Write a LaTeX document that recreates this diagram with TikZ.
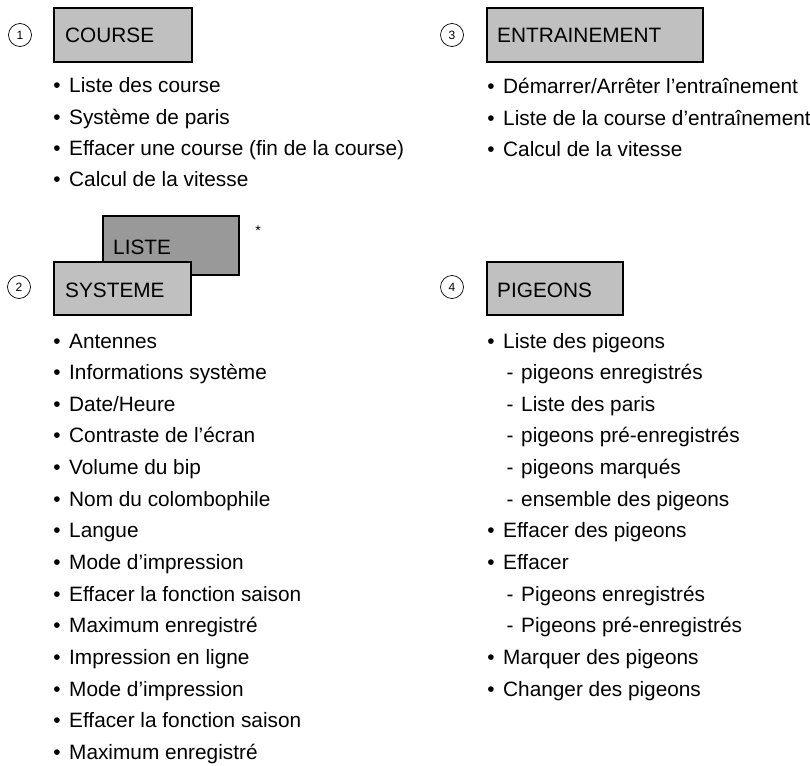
\documentclass[tikz,border=0pt]{standalone}
\usepackage{fontspec}
\setmainfont{Liberation Sans}
\definecolor{boxgray}{HTML}{C0C0C0}
\definecolor{darkgray}{HTML}{999999}
\tikzset{
  lbl/.style={anchor=base west, inner sep=0pt, font=\fontsize{20.8}{24}\selectfont},
  bul/.style={anchor=base, inner sep=0pt, font=\fontsize{20.8}{24}\selectfont},
  hbox/.style={draw, line width=1.8pt, fill=boxgray, anchor=north west, inner sep=0pt},
  numc/.style={circle, draw, line width=0.7pt, minimum size=23pt, inner sep=0pt, font=\fontsize{12}{14}\selectfont},
}
\begin{document}
\begin{tikzpicture}[x=1pt,y=-1pt]
\useasboundingbox (0,0) rectangle (810,765);
% ---- 1 COURSE
\node[numc] (n1) at (20,35) {1};
\node[hbox, minimum width=138pt, minimum height=54pt] (coursebox) at (53,7) {};
\node[lbl] (coursel) at (65,43) {COURSE};
\foreach \t [count=\i from 0] in {Liste des course, Système de paris, Effacer une course (fin de la course), Calcul de la vitesse}{
  \node[bul] (cb\i) at (57,93+31.3*\i) {•};
  \node[lbl] (ct\i) at (69,93+31.3*\i) {\t};
}
% ---- 3 ENTRAINEMENT
\node[numc] (n3) at (452,35) {3};
\node[hbox, minimum width=216pt, minimum height=54pt] (entbox) at (486,7) {};
\node[lbl] (entl) at (497,43) {ENTRAINEMENT};
\foreach \t [count=\i from 0] in {Démarrer/Arrêter l’entraînement, Liste de la course d’entraînement, Calcul de la vitesse}{
  \node[bul] (eb\i) at (491,94+31.3*\i) {•};
  \node[lbl] (et\i) at (503,94+31.3*\i) {\t};
}
% ---- 2 LISTE / SYSTEME
\node[hbox, fill=darkgray, minimum width=136pt, minimum height=59pt] (listebox) at (102,215) {};
\node[lbl] (listel) at (113,254) {LISTE};
\node[anchor=center, inner sep=0pt, font=\fontsize{14}{16}\selectfont] (star) at (258,231) {*};
\node[numc] (n2) at (19,287) {2};
\node[hbox, minimum width=137pt, minimum height=53pt] (sysbox) at (53,261) {};
\node[lbl] (sysl) at (65,297) {SYSTEME};
\foreach \t [count=\i from 0] in {Antennes, Informations système, Date/Heure, Contraste de l’écran, Volume du bip, Nom du colombophile, Langue, Mode d’impression, Effacer la fonction saison, Maximum enregistré, Impression en ligne, Mode d’impression, Effacer la fonction saison, Maximum enregistré}{
  \node[bul] (sb\i) at (57,348+31.65*\i) {•};
  \node[lbl] (st\i) at (69,348+31.65*\i) {\t};
}
% ---- 4 PIGEONS
\node[numc] (n4) at (452,287) {4};
\node[hbox, minimum width=136pt, minimum height=53pt] (pigbox) at (486,261) {};
\node[lbl] (pigl) at (497,297) {PIGEONS};
\foreach \k/\t [count=\i from 0] in {b/Liste des pigeons, d/pigeons enregistrés, d/Liste des paris, d/pigeons pré-enregistrés, d/pigeons marqués, d/ensemble des pigeons, b/Effacer des pigeons, b/Effacer, d/Pigeons enregistrés, d/Pigeons pré-enregistrés, b/Marquer des pigeons, b/Changer des pigeons}{
  \if b\k
    \node[bul] (pb\i) at (491,348+31.65*\i) {•};
    \node[lbl] (pt\i) at (503,348+31.65*\i) {\t};
  \else
    \node[bul] (pb\i) at (510,348+31.65*\i) {-};
    \node[lbl] (pt\i) at (521,348+31.65*\i) {\t};
  \fi
}
\end{tikzpicture}
\end{document}
